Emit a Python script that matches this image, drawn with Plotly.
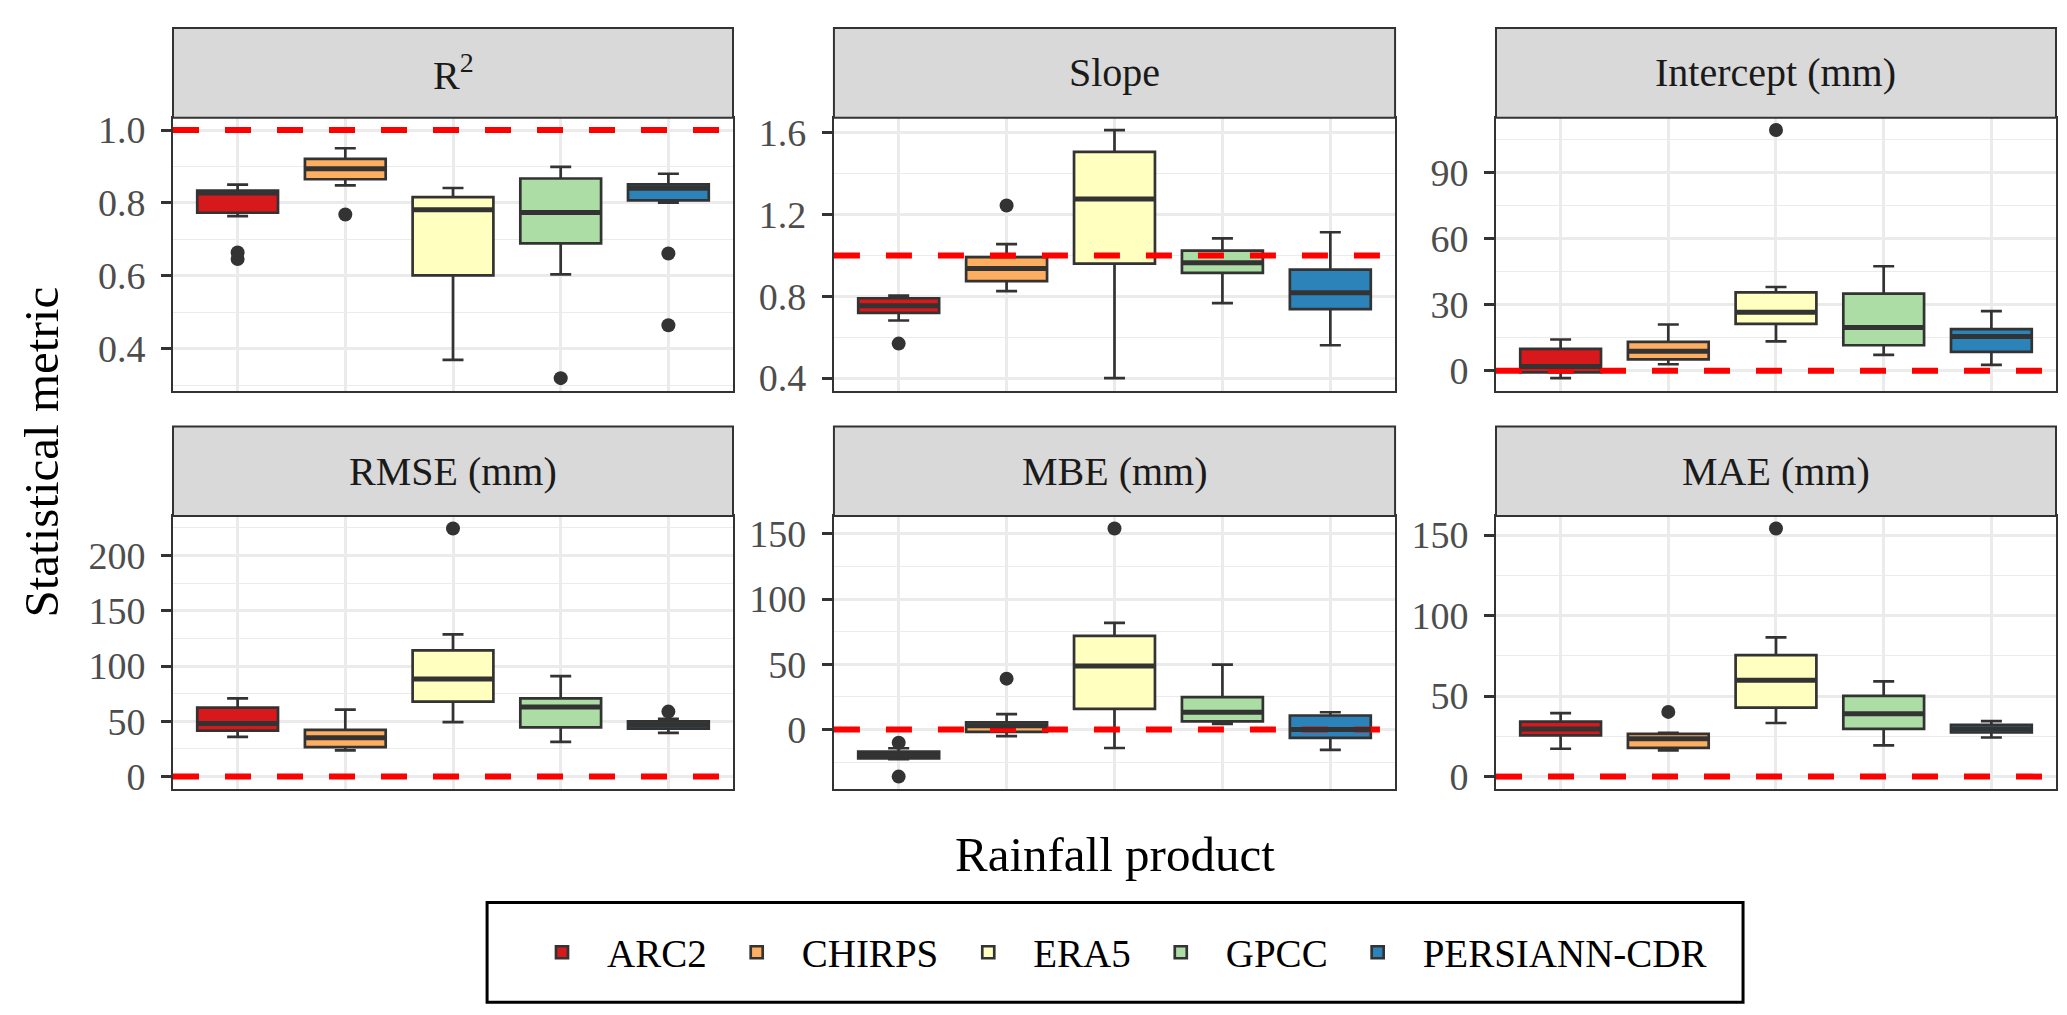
import plotly.graph_objects as go

# ---------------- data ----------------
products = ["ARC2", "CHIRPS", "ERA5", "GPCC", "PERSIANN-CDR"]
colors = ["#D7191C", "#FDAE61", "#FFFFBF", "#ABDDA4", "#2B83BA"]
metrics = ["R<sup>2</sup>", "Slope", "Intercept (mm)", "RMSE (mm)", "MBE (mm)", "MAE (mm)"]
ref_lines = [1.0, 1.0, 0.0, 0.0, 0.0, 0.0]
tick_steps = [0.2, 0.4, 30, 50, 50, 50]
tick_formats = [".1f", ".1f", "d", "d", "d", "d"]

# R2
r2_low = [0.764, 0.848, 0.369, 0.604, 0.801]
r2_q1 = [0.773, 0.865, 0.601, 0.689, 0.807]
r2_med = [0.827, 0.894, 0.781, 0.774, 0.840]
r2_q3 = [0.834, 0.921, 0.816, 0.867, 0.851]
r2_high = [0.850, 0.950, 0.841, 0.899, 0.880]
r2_out = [[0.664, 0.646], [0.768], [], [0.319], [0.661, 0.464]]

# Slope
slope_low = [0.682, 0.826, 0.400, 0.767, 0.561]
slope_q1 = [0.719, 0.875, 0.960, 0.915, 0.738]
slope_med = [0.754, 0.936, 1.277, 0.965, 0.818]
slope_q3 = [0.791, 0.992, 1.507, 1.024, 0.931]
slope_high = [0.804, 1.056, 1.614, 1.084, 1.114]
slope_out = [[0.569], [1.245], [], [], []]

# Intercept (mm)
int_low = [-3.3, 3.0, 13.4, 7.2, 2.7]
int_q1 = [-0.7, 5.2, 21.3, 11.6, 8.6]
int_med = [2.0, 8.9, 26.5, 19.7, 15.6]
int_q3 = [10.0, 13.1, 35.6, 35.0, 18.9]
int_high = [14.2, 21.0, 38.0, 47.4, 27.1]
int_out = [[], [], [109.1], [], []]

# RMSE (mm)
rmse_low = [36.0, 23.8, 49.3, 31.5, 39.5]
rmse_q1 = [41.6, 26.7, 67.8, 44.6, 43.4]
rmse_med = [48.1, 35.1, 88.3, 63.0, 47.0]
rmse_q3 = [62.4, 42.2, 114.1, 70.7, 49.9]
rmse_high = [70.7, 60.6, 128.7, 90.9, 52.3]
rmse_out = [[], [], [224.4], [], [58.8]]

# MBE (mm)
mbe_low = [-22.6, -5.0, -14.1, 4.3, -15.6]
mbe_q1 = [-22.1, -1.8, 15.9, 6.3, -6.3]
mbe_med = [-19.4, 3.0, 48.8, 13.3, 0.0]
mbe_q3 = [-16.9, 5.5, 71.7, 24.9, 10.8]
mbe_high = [-14.3, 11.8, 81.8, 49.8, 13.3]
mbe_out = [[-10.1, -36.0], [39.0], [154.0], [], []]

# MAE (mm)
mae_low = [17.3, 16.2, 33.3, 19.4, 24.3]
mae_q1 = [25.6, 17.9, 42.9, 29.6, 27.4]
mae_med = [29.5, 23.5, 59.8, 39.0, 29.6]
mae_q3 = [34.1, 26.6, 75.5, 50.2, 32.1]
mae_high = [39.4, 27.2, 86.5, 59.2, 34.4]
mae_out = [[], [40.2], [154.1], [], []]

stats = [
    (r2_low, r2_q1, r2_med, r2_q3, r2_high, r2_out),
    (slope_low, slope_q1, slope_med, slope_q3, slope_high, slope_out),
    (int_low, int_q1, int_med, int_q3, int_high, int_out),
    (rmse_low, rmse_q1, rmse_med, rmse_q3, rmse_high, rmse_out),
    (mbe_low, mbe_q1, mbe_med, mbe_q3, mbe_high, mbe_out),
    (mae_low, mae_q1, mae_med, mae_q3, mae_high, mae_out),
]

# ---------------- style / layout constants ----------------
FONT = "Liberation Serif"
DARK = "#333333"
GRID = "#EBEBEB"
BOX_W = 0.75
X_EXPAND = 0.6
W, H = 2067, 1015
ML, MR, MT, MB = 165, 19, 17, 234

x_domains = [[0.0, 0.2974], [0.3510, 0.6490], [0.7026, 1.0]]
y_domains = [[0.5236, 0.8822], [0.0, 0.3586]]
strip_domains = [[0.8822, 1.0], [0.3586, 0.4764]]

fig = go.Figure()
shapes = []
annotations = []
positions = list(range(len(products)))
x_range = [positions[0] - X_EXPAND, positions[-1] + X_EXPAND]

for k, (low, q1, med, q3, high, outs) in enumerate(stats):
    xa = "x" if k == 0 else f"x{k+1}"
    ya = "y" if k == 0 else f"y{k+1}"
    # reference dashed line (drawn first so boxes sit on top)
    fig.add_trace(go.Scatter(x=x_range, y=[ref_lines[k], ref_lines[k]], mode="lines",
                             line=dict(color="#FF0000", width=6, dash="26px,26px"),
                             showlegend=False, hoverinfo="skip", xaxis=xa, yaxis=ya))
    # boxes
    for j, prod in enumerate(products):
        fig.add_trace(go.Box(
            x=[positions[j]], q1=[q1[j]], median=[med[j]], q3=[q3[j]],
            lowerfence=[low[j]], upperfence=[high[j]],
            name=prod, legendgroup=prod, showlegend=(k == 0),
            fillcolor=colors[j], line=dict(color=DARK, width=2.7),
            width=BOX_W, whiskerwidth=0.26, boxpoints=False,
            xaxis=xa, yaxis=ya, hoverinfo="skip",
        ))
    # thick median lines (ggplot fatten)
    mx, my = [], []
    for j in positions:
        mx += [j - BOX_W / 2, j + BOX_W / 2, None]
        my += [med[j], med[j], None]
    fig.add_trace(go.Scatter(x=mx, y=my, mode="lines", line=dict(color=DARK, width=5),
                             showlegend=False, hoverinfo="skip", xaxis=xa, yaxis=ya))
    # outliers
    ox, oy = [], []
    for j in positions:
        for v in outs[j]:
            ox.append(j)
            oy.append(v)
    fig.add_trace(go.Scatter(x=ox, y=oy, mode="markers",
                             marker=dict(color=DARK, size=14),
                             showlegend=False, hoverinfo="skip", xaxis=xa, yaxis=ya))

    # y range as ggplot: data + reference line, 5% expansion
    allv = low + high + [v for o in outs for v in o] + [ref_lines[k]]
    lo, hi = min(allv), max(allv)
    pad = 0.05 * (hi - lo)
    col, row = k % 3, k // 3

    fig.layout[f"xaxis{'' if k == 0 else k+1}"] = dict(
        domain=x_domains[col], anchor=ya, range=x_range,
        tickvals=positions, showticklabels=False, ticks="",
        showgrid=True, gridcolor=GRID, gridwidth=2.7, zeroline=False,
        showline=True, mirror=True, linecolor=DARK, linewidth=2,
    )
    fig.layout[f"yaxis{'' if k == 0 else k+1}"] = dict(
        domain=y_domains[row], anchor=xa, range=[lo - pad, hi + pad],
        tick0=0, dtick=tick_steps[k], tickformat=tick_formats[k],
        ticks="outside", ticklen=10, tickwidth=2.7, tickcolor=DARK,
        ticklabelstandoff=8,
        tickfont=dict(family=FONT, size=38, color="#4D4D4D"),
        showgrid=True, gridcolor=GRID, gridwidth=2.7, zeroline=False,
        minor=dict(tick0=0, dtick=tick_steps[k] / 2, showgrid=True,
                   gridcolor=GRID, gridwidth=1.3, ticks=""),
        showline=True, mirror=True, linecolor=DARK, linewidth=2,
    )
    # strip
    sd = strip_domains[row]
    shapes.append(dict(type="rect", xref="paper", yref="paper",
                       x0=x_domains[col][0], x1=x_domains[col][1], y0=sd[0], y1=sd[1],
                       fillcolor="#D9D9D9", line=dict(color=DARK, width=2)))
    annotations.append(dict(xref="paper", yref="paper",
                            x=(x_domains[col][0] + x_domains[col][1]) / 2,
                            y=(sd[0] + sd[1]) / 2, text=metrics[k], showarrow=False,
                            xanchor="center", yanchor="middle",
                            font=dict(family=FONT, size=40, color="#1A1A1A")))

# axis titles
annotations.append(dict(xref="paper", yref="paper", x=0.5, y=-0.0864,
                        text="Rainfall product", showarrow=False,
                        xanchor="center", yanchor="middle",
                        font=dict(family=FONT, size=49, color="black")))
annotations.append(dict(xref="paper", yref="paper", x=-0.0700, y=0.4424,
                        text="Statistical metric", showarrow=False, textangle=-90,
                        xanchor="center", yanchor="middle",
                        font=dict(family=FONT, size=49, color="black")))

# legend frame
shapes.append(dict(type="rect", xref="paper", yref="paper",
                   x0=0.1668, x1=0.8338, y0=-0.2801, y1=-0.1492,
                   fillcolor="rgba(0,0,0,0)", line=dict(color="black", width=3)))

fig.update_layout(
    width=W, height=H,
    margin=dict(l=ML, r=MR, t=MT, b=MB),
    paper_bgcolor="white", plot_bgcolor="white",
    boxmode="overlay",
    font=dict(family=FONT, color="black"),
    shapes=shapes, annotations=annotations,
    legend=dict(orientation="h", x=0.5, xanchor="center", y=-0.2147, yanchor="middle",
                font=dict(family=FONT, size=39, color="black"),
                bgcolor="rgba(0,0,0,0)", borderwidth=0, itemwidth=80,
                traceorder="normal"),
)

fig.write_html("out.html")
